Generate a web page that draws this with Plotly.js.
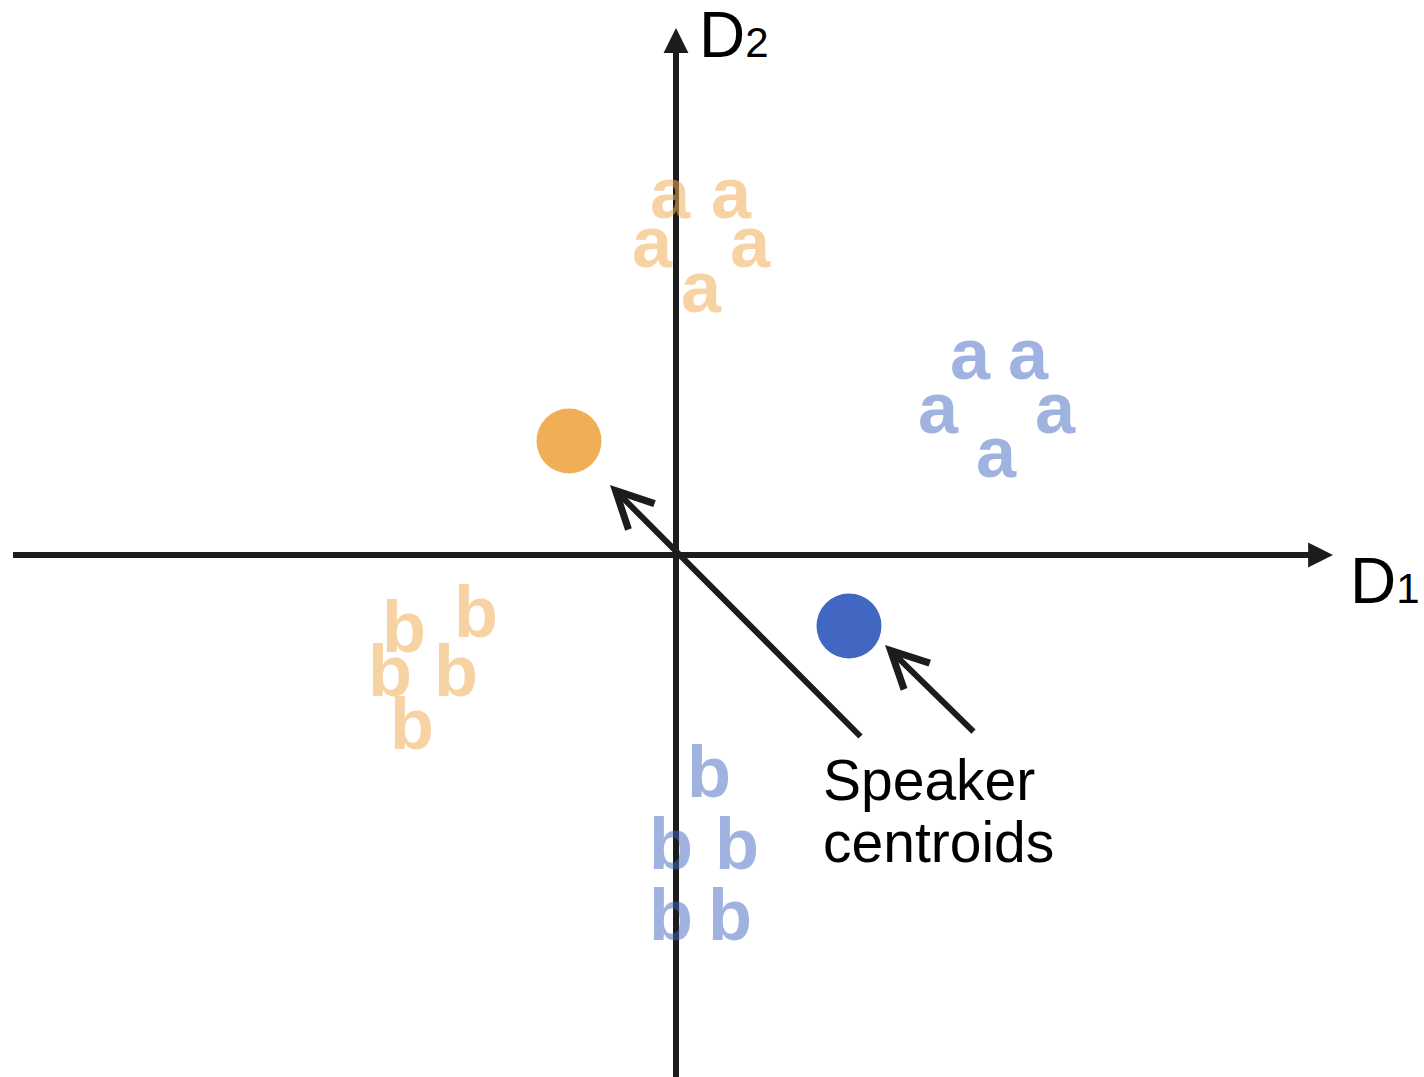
<!DOCTYPE html>
<html>
<head>
<meta charset="utf-8">
<script src="https://cdn.plot.ly/plotly-3.0.1.min.js"></script>
<style>
  html, body { margin: 0; padding: 0; background: #ffffff; }
  #chart { width: 1424px; height: 1077px; }
</style>
</head>
<body>
<div id="chart"></div>
<script>
// Speaker 1 (orange) tokens of vowel "a" and "b" in D1/D2 space
const orangeAx = [-0.06, 0.55, -0.24, 0.74, 0.25];
const orangeAy = [3.55, 3.55, 3.06, 3.06, 2.61];
const orangeBx = [-2.72, -2.00, -2.86, -2.20, -2.64];
const orangeBy = [-0.79, -0.64, -1.23, -1.23, -1.76];
// Speaker 2 (blue) tokens
const blueAx = [2.94, 3.52, 2.62, 3.79, 3.20];
const blueAy = [1.94, 1.94, 1.40, 1.40, 0.96];
const blueBx = [0.33, -0.05, 0.61, -0.05, 0.54];
const blueBy = [-2.24, -2.96, -2.96, -3.67, -3.67];
// Speaker centroids [orange, blue]
const centroidX = [-1.07, 1.73];
const centroidY = [1.14, -0.71];
const centroidColors = ['#F0AE57', '#4267C2'];
// Labels
const axisLabels = ['D<span style="font-size:42px">2</span>', 'D<span style="font-size:42px">1</span>'];
const noteLines = ['Speaker', 'centroids'];

const FONT = 'Liberation Sans, Arial, Helvetica, sans-serif';
const AXIS_COLOR = '#1c1c1c';

function letters(xs, ys, ch, color) {
  return {
    type: 'scatter', mode: 'text', x: xs, y: ys,
    text: xs.map(() => ch), textposition: 'middle center',
    textfont: { family: FONT, size: 72, color: color, weight: 700 },
    hoverinfo: 'skip', showlegend: false
  };
}

const traces = [
  letters(orangeAx, orangeAy, 'a', 'rgba(240,174,87,0.55)'),
  letters(orangeBx, orangeBy, 'b', 'rgba(240,174,87,0.55)'),
  letters(blueAx, blueAy, 'a', 'rgba(66,103,194,0.5)'),
  letters(blueBx, blueBy, 'b', 'rgba(66,103,194,0.5)'),
  {
    type: 'scatter', mode: 'markers', x: centroidX, y: centroidY,
    marker: { size: 65, color: centroidColors, line: { width: 0 } },
    hoverinfo: 'skip', showlegend: false
  }
];

const shapes = [
  { type: 'line', layer: 'below', x0: -6.63, x1: 6.40, y0: 0, y1: 0, line: { color: AXIS_COLOR, width: 6 } },
  { type: 'line', layer: 'below', x0: 0, x1: 0, y0: -5.40, y1: 5.10, line: { color: AXIS_COLOR, width: 6 } }
];

const annotations = [
  // axis arrowheads
  { x: 6.57, y: 0, ax: -40, ay: 0, text: '', showarrow: true, arrowhead: 2, arrowwidth: 6, arrowsize: 0.83, arrowcolor: AXIS_COLOR },
  { x: 0, y: 5.27, ax: 0, ay: 40, text: '', showarrow: true, arrowhead: 2, arrowwidth: 6, arrowsize: 0.83, arrowcolor: AXIS_COLOR },
  // centroid pointers
  { x: -0.66, y: 0.70, ax: 1.86, ay: -1.83, axref: 'x', ayref: 'y', text: '', showarrow: true, arrowhead: 5, arrowwidth: 6, arrowsize: 1.2, arrowcolor: AXIS_COLOR },
  { x: 2.09, y: -0.90, ax: 2.99, ay: -1.78, axref: 'x', ayref: 'y', text: '', showarrow: true, arrowhead: 5, arrowwidth: 6, arrowsize: 1.2, arrowcolor: AXIS_COLOR },
  // axis labels
  { x: 0.21, y: 5.20, text: axisLabels[0], showarrow: false, xanchor: 'left', yanchor: 'middle', font: { family: FONT, size: 64, color: '#000000' } },
  { x: 6.72, y: -0.26, text: axisLabels[1], showarrow: false, xanchor: 'left', yanchor: 'middle', font: { family: FONT, size: 64, color: '#000000' } },
  // note
  { x: 1.45, y: -2.25, text: noteLines[0], showarrow: false, xanchor: 'left', yanchor: 'middle', font: { family: FONT, size: 57, color: '#000000' } },
  { x: 1.45, y: -2.87, text: noteLines[1], showarrow: false, xanchor: 'left', yanchor: 'middle', font: { family: FONT, size: 57, color: '#000000' } }
];

const layout = {
  width: 1424, height: 1077,
  margin: { l: 0, r: 0, t: 0, b: 0, pad: 0 },
  paper_bgcolor: '#ffffff', plot_bgcolor: '#ffffff',
  showlegend: false,
  xaxis: { range: [-6.76, 7.48], visible: false, fixedrange: true },
  yaxis: { range: [-5.22, 5.55], visible: false, fixedrange: true },
  shapes: shapes,
  annotations: annotations
};

Plotly.newPlot('chart', traces, layout, { displayModeBar: false, staticPlot: true });
</script>
</body>
</html>
